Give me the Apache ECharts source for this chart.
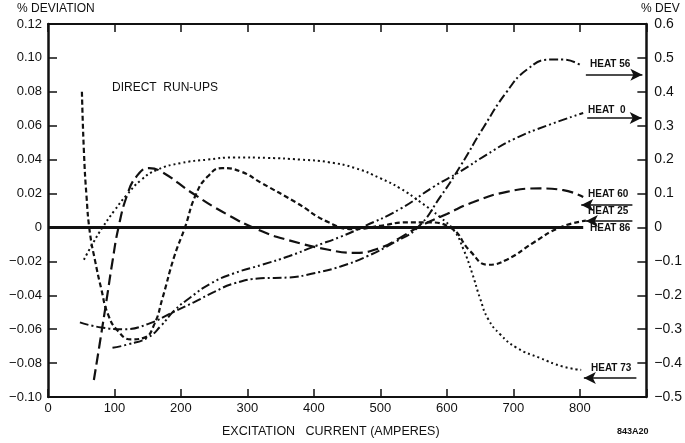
<!DOCTYPE html>
<html>
<head>
<meta charset="utf-8">
<script src="https://cdn.jsdelivr.net/npm/echarts@6/dist/echarts.min.js"></script>
<style>
html,body{margin:0;padding:0;background:#fff;}
#chart{width:685px;height:443px;}
</style>
</head>
<body>
<div id="chart"></div>
<script>
// ---- data (x = excitation current in amperes, y = % deviation) ----
var xTicks = [0, 100, 200, 300, 400, 500, 600, 700, 800];
var leftTicks = [0.12, 0.10, 0.08, 0.06, 0.04, 0.02, 0, -0.02, -0.04, -0.06, -0.08, -0.10];
var rightTicks = [0.6, 0.5, 0.4, 0.3, 0.2, 0.1, 0, -0.1, -0.2, -0.3, -0.4, -0.5];

var heat25 = [[51,0.080],[54,0.045],[58,0.018],[63,-0.003],[71,-0.020],[80,-0.036],[90,-0.051],[105,-0.061],[125,-0.066],[145,-0.065],[160,-0.057],[172,-0.042],[190,-0.017],[206,0],[222,0.019],[240,0.030],[262,0.035],[290,0.033],[322,0.026],[372,0.015],[422,0.003],[460,-0.001],[500,0.001],[540,0.003],[570,0.003],[605,0],[635,-0.014],[662,-0.022],[690,-0.019],[730,-0.009],[770,0],[809,0.004]];
var heat60 = [[69,-0.090],[78,-0.068],[88,-0.043],[97,-0.020],[106,0],[119,0.019],[133,0.030],[152,0.035],[170,0.033],[218,0.020],[268,0.008],[320,-0.002],[362,-0.0075],[420,-0.013],[462,-0.015],[500,-0.012],[530,-0.006],[556,0],[600,0.008],[640,0.015],[690,0.021],[740,0.023],[775,0.022],[805,0.018]];
var heat56 = [[48,-0.056],[80,-0.059],[115,-0.060],[150,-0.057],[188,-0.050],[220,-0.044],[250,-0.038],[280,-0.033],[320,-0.030],[362,-0.0295],[400,-0.027],[440,-0.023],[480,-0.017],[520,-0.009],[556,0],[590,0.018],[620,0.036],[655,0.059],[690,0.080],[720,0.093],[755,0.099],[775,0.099],[800,0.096]];
var heat0 = [[97,-0.071],[120,-0.069],[150,-0.065],[170,-0.058],[190,-0.049],[215,-0.041],[245,-0.033],[280,-0.027],[322,-0.022],[362,-0.017],[402,-0.011],[440,-0.0055],[472,0],[530,0.011],[580,0.024],[620,0.033],[660,0.043],[700,0.052],[750,0.060],[805,0.0675]];
var heat73 = [[54,-0.019],[68,-0.009],[82,0],[100,0.010],[118,0.019],[140,0.028],[164,0.034],[200,0.038],[240,0.040],[280,0.0413],[330,0.041],[380,0.040],[422,0.0385],[462,0.035],[500,0.029],[530,0.023],[560,0.015],[590,0.006],[611,-0.002],[625,-0.013],[638,-0.027],[650,-0.042],[662,-0.054],[680,-0.063],[705,-0.071],[740,-0.077],[774,-0.082],[802,-0.084]];
var heat86 = [[0,0],[805,0]];

// label arrows: [startX, startY, endX, endY] (arrow head at end)
var arrow56 = [809, 0.090, 894, 0.090];
var arrow0  = [811, 0.0646, 893, 0.0646];
var arrow60 = [879, 0.0133, 802, 0.0133];
var arrow25 = [879, 0.0038, 809, 0.0038];
var arrow73 = [885, -0.0888, 806, -0.0888];

var FONT = 'Liberation Sans';
var INK = '#111';

function fmtLeft(v){
  if (Math.abs(v) < 1e-9) return '0';
  var s = Math.abs(v).toFixed(2);
  return (v < 0 ? '\u2212' : '') + s;
}
function fmtRight(v){
  if (Math.abs(v) < 1e-9) return '0';
  var s = Math.abs(v).toFixed(1);
  return (v < 0 ? '\u2212' : '') + s;
}
function near(list, v, d){ return list.some(function(t){ return Math.abs(t - v) < d; }); }

function lineSeries(name, data, type, width){
  return {
    name: name, type: 'line', data: data, xAxisIndex: 0, yAxisIndex: 0,
    showSymbol: false, symbol: 'none', smooth: 0.5,
    lineStyle: { color: INK, width: width || 2, type: type, cap: 'butt' },
    silent: true, z: 3
  };
}
function arrowLine(a){
  return [{ coord: [a[0], a[1]] }, { coord: [a[2], a[3]] }];
}

var chart = echarts.init(document.getElementById('chart'), null, { renderer: 'canvas' });

var option = {
  animation: false,
  backgroundColor: '#fff',
  grid: { left: 48, right: 33, top: 24, bottom: 46 },
  xAxis: [
    {
      type: 'value', min: 0, max: 900, interval: 100, position: 'bottom',
      axisLine: { show: true, onZero: false, lineStyle: { color: INK, width: 2 } },
      axisTick: { show: true, inside: true, length: 8, lineStyle: { color: INK, width: 1.5 } },
      axisLabel: { margin: 5, color: INK, fontFamily: FONT, fontSize: 13,
        formatter: function(v){ return near(xTicks, v, 0.5) ? String(v) : ''; } },
      splitLine: { show: false }
    },
    {
      type: 'value', min: 0, max: 900, interval: 100, position: 'top',
      axisLine: { show: true, onZero: false, lineStyle: { color: INK, width: 2 } },
      axisTick: { show: true, inside: true, length: 8, lineStyle: { color: INK, width: 1.5 } },
      axisLabel: { show: false }, splitLine: { show: false }
    }
  ],
  yAxis: [
    {
      type: 'value', min: -0.10, max: 0.12, interval: 0.02, position: 'left',
      axisLine: { show: true, onZero: false, lineStyle: { color: INK, width: 2.5 } },
      axisTick: { show: true, inside: true, length: 9, lineStyle: { color: INK, width: 1.5 } },
      axisLabel: { margin: 6, color: INK, fontFamily: FONT, fontSize: 13,
        formatter: function(v){ return near(leftTicks, v, 0.001) ? fmtLeft(v) : ''; } },
      splitLine: { show: false }
    },
    {
      type: 'value', min: -0.5, max: 0.6, interval: 0.1, position: 'right',
      axisLine: { show: true, onZero: false, lineStyle: { color: INK, width: 2.5 } },
      axisTick: { show: true, inside: true, length: 9, lineStyle: { color: INK, width: 1.5 } },
      axisLabel: { margin: 8, color: INK, fontFamily: FONT, fontSize: 14,
        formatter: function(v){ return near(rightTicks, v, 0.001) ? fmtRight(v) : ''; } },
      splitLine: { show: false }
    }
  ],
  series: [
    lineSeries('HEAT 86', heat86, 'solid', 3),
    lineSeries('HEAT 25', heat25, [5, 3], 2.2),
    lineSeries('HEAT 60', heat60, [11, 5], 2.2),
    lineSeries('HEAT 56', heat56, [9, 3, 2, 3], 2),
    lineSeries('HEAT 0', heat0, [9, 3, 2, 3, 2, 3], 2),
    lineSeries('HEAT 73', heat73, [2, 3], 2),
    {
      type: 'line', data: [], xAxisIndex: 0, yAxisIndex: 0, silent: true,
      markLine: {
        silent: true, animation: false,
        symbol: ['none', 'arrow'], symbolSize: [9, 12],
        label: { show: false },
        lineStyle: { color: INK, width: 1.5, type: 'solid' },
        data: [arrowLine(arrow56), arrowLine(arrow0), arrowLine(arrow60), arrowLine(arrow25), arrowLine(arrow73)]
      }
    }
  ],
  graphic: [
    { type: 'text', left: 17, top: 3, style: { text: '% DEVIATION', fill: INK, font: '12px "Liberation Sans"' } },
    { type: 'text', left: 641, top: 3, style: { text: '% DEV', fill: INK, font: '12px "Liberation Sans"' } },
    { type: 'text', left: 112, top: 82, style: { text: 'DIRECT  RUN-UPS', fill: INK, font: '12px "Liberation Sans"' } },
    { type: 'text', left: 222, top: 425, style: { text: 'EXCITATION   CURRENT (AMPERES)', fill: INK, font: '12.5px "Liberation Sans"' } },
    { type: 'text', left: 617, top: 427, style: { text: '843A20', fill: INK, font: 'bold 9px "Liberation Sans"' } },
    { type: 'text', left: 590, top: 59, style: { text: 'HEAT 56', fill: INK, font: 'bold 10px "Liberation Sans"' } },
    { type: 'text', left: 588, top: 105, style: { text: 'HEAT  0', fill: INK, font: 'bold 10px "Liberation Sans"' } },
    { type: 'text', left: 588, top: 189, style: { text: 'HEAT 60', fill: INK, font: 'bold 10px "Liberation Sans"' } },
    { type: 'text', left: 588, top: 206, style: { text: 'HEAT 25', fill: INK, font: 'bold 10px "Liberation Sans"' } },
    { type: 'text', left: 590, top: 223, style: { text: 'HEAT 86', fill: INK, font: 'bold 10px "Liberation Sans"' } },
    { type: 'text', left: 591, top: 363, style: { text: 'HEAT 73', fill: INK, font: 'bold 10px "Liberation Sans"' } }
  ]
};
chart.setOption(option);
</script>
</body>
</html>
